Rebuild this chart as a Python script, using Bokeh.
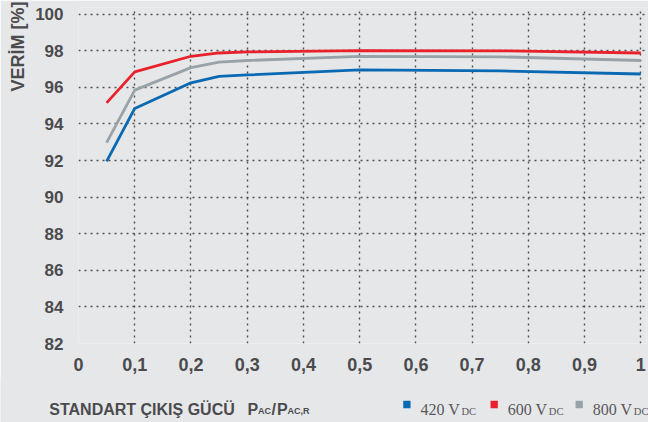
import math
from bokeh.plotting import figure
from bokeh.models import Range1d, FixedTicker, Title
from bokeh.layouts import column, row
from bokeh.core.properties import value
from bokeh.embed import file_html
from bokeh.resources import INLINE

# ---- data ----
load = [0.05, 0.1, 0.2, 0.25, 0.3, 0.5, 0.75, 1.0]
eff_420 = [91.95, 94.85, 96.25, 96.6, 96.68, 96.96, 96.9, 96.73]
eff_600 = [95.15, 96.85, 97.7, 97.88, 97.94, 98.01, 98.0, 97.88]
eff_800 = [92.98, 95.85, 97.08, 97.38, 97.47, 97.69, 97.67, 97.47]
series_names = ["420 V", "600 V", "800 V"]
x_ticks = [0, 0.1, 0.2, 0.3, 0.4, 0.5, 0.6, 0.7, 0.8, 0.9, 1.0]
x_tick_labels = ["0", "0,1", "0,2", "0,3", "0,4", "0,5", "0,6", "0,7", "0,8", "0,9", "1"]
y_ticks = [82, 84, 86, 88, 90, 92, 94, 96, 98, 100]
y_title = "VERİM [%]"
x_title = "STANDART ÇIKIŞ GÜCÜ"

# ---- style ----
BG = "#e6e7e9"
TXT = "#4b4b4e"
LEGTXT = "#58585a"
GRID = "#505050"
C_BLUE = "#0a69b3"
C_RED = "#e8212b"
C_GRAY = "#98a2a9"
SANS = "Liberation Sans"
SERIF = "Liberation Serif"

W, H = 648, 422
OVERLAP = 2
MAIN_H = 380
BOT_H = H - MAIN_H + OVERLAP   # strip holding x title and legend
FL, FR, FT, FB = 78, 2, 7, 37
X0, X1 = 0.0, 1.0101
Y0, Y1 = 82.0, 100.366


def txt(f, x, y, text, font=SANS, size=16, bold=True, color=TXT, align="left",
        baseline="alphabetic", angle=0.0):
    f.text(x=[x], y=[y], text=[text], text_font=value(font),
           text_font_size=f"{size}px",
           text_font_style="bold" if bold else "normal",
           text_color=color, text_align=align, text_baseline=baseline, angle=angle)


# ---- main chart ----
p = figure(width=W, height=MAIN_H, output_backend="svg", toolbar_location=None,
           x_range=Range1d(X0, X1), y_range=Range1d(Y0, Y1),
           min_border_left=FL, min_border_right=FR,
           min_border_top=FT, min_border_bottom=FB)
p.background_fill_color = BG
p.border_fill_color = BG
p.outline_line_color = None

for ax, fs in ((p.xaxis[0], "18px"), (p.yaxis[0], "17px")):
    ax.axis_line_color = None
    ax.major_tick_line_color = None
    ax.minor_tick_line_color = None
    ax.major_label_text_font = SANS
    ax.major_label_text_font_style = "bold"
    ax.major_label_text_font_size = fs
    ax.major_label_text_color = TXT

p.xaxis.ticker = FixedTicker(ticks=x_ticks)
p.xaxis.major_label_overrides = {t: l for t, l in zip(x_ticks, x_tick_labels)}
p.xaxis.major_label_standoff = 8
p.yaxis.ticker = FixedTicker(ticks=y_ticks)
p.yaxis.major_label_standoff = 9

p.xgrid.ticker = FixedTicker(ticks=x_ticks)
p.ygrid.ticker = FixedTicker(ticks=y_ticks)
for g in (p.xgrid[0], p.ygrid[0]):
    g.grid_line_color = GRID
    g.grid_line_dash = "2 4"
    g.grid_line_width = 1.4

for ys, col in ((eff_420, C_BLUE), (eff_800, C_GRAY), (eff_600, C_RED)):
    p.line(load, ys, line_color=col, line_width=2.8)

p.add_layout(Title(text=y_title, align="right", text_font=SANS, text_font_size="18px",
                   text_font_style="bold", text_color=TXT, standoff=10, offset=-6), "left")

# ---- bottom strip: x title and legend (page pixel coordinates) ----
bot = figure(width=W, height=BOT_H, output_backend="svg", toolbar_location=None,
             x_range=Range1d(0, W), y_range=Range1d(H, MAIN_H - OVERLAP),
             x_axis_location=None, y_axis_location=None,
             min_border=0, min_border_left=0, min_border_right=0,
             min_border_top=0, min_border_bottom=0)
bot.background_fill_color = BG
bot.border_fill_color = BG
bot.outline_line_color = None
bot.xgrid.visible = False
bot.ygrid.visible = False

BL = 409.0
txt(bot, 48.8, BL, x_title, size=16)
txt(bot, 247, BL, "P", size=16)
txt(bot, 257.5, BL + 1.5, "AC", size=9)
txt(bot, 271, BL, "/", size=16)
txt(bot, 276.5, BL, "P", size=16)
txt(bot, 287, BL + 1.5, "AC,R", size=9)

legend_x = [402.7, 490.0, 575.0]
for lx, col, name in zip(legend_x, (C_BLUE, C_RED, C_GRAY), series_names):
    bot.scatter(x=[lx + 3.7], y=[404.0], marker="square", size=7.3,
                fill_color=col, line_color=None)
    txt(bot, lx + 17.3, BL, name, font=SERIF, size=16, bold=False, color=LEGTXT)
    txt(bot, lx + 58.3, BL + 2.4, "DC", font=SERIF, size=10.5, bold=False, color=LEGTXT)

layout = column(p, row(bot, spacing=0, margin=(-OVERLAP, 0, 0, 0)), spacing=0)
open("out.html", "w").write(file_html(layout, INLINE))
